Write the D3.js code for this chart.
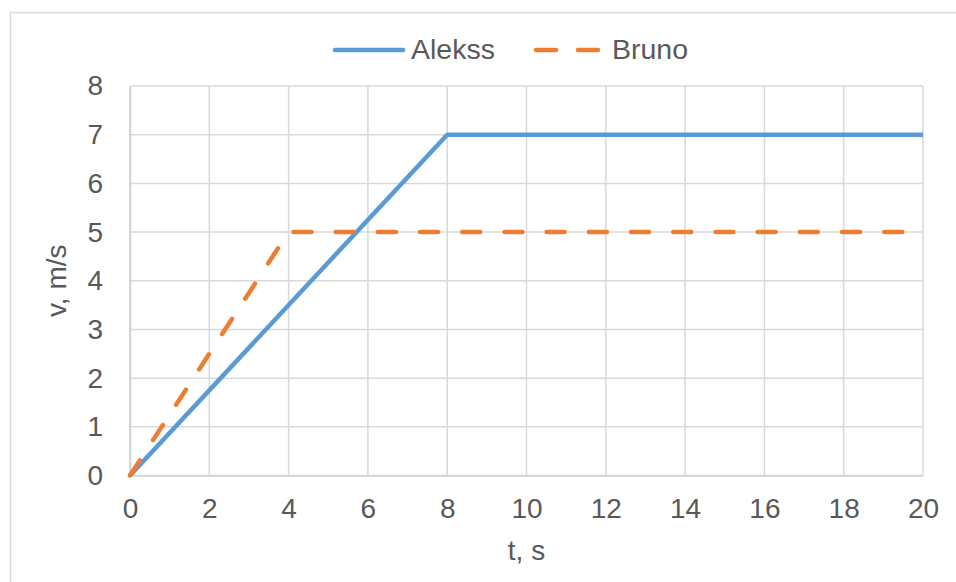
<!DOCTYPE html>
<html><head><meta charset="utf-8">
<script src="https://cdn.jsdelivr.net/npm/d3@7"></script>
<style>html,body{margin:0;padding:0;background:#fff;}svg{display:block;}</style>
</head><body>
<svg id="c" width="956" height="582"></svg>
<script>
const seriesNames = ["Alekss", "Bruno"];
const alekssT = [0, 8, 20];
const alekssV = [0, 7, 7];
const brunoT = [0, 4, 20];
const brunoV = [0, 5, 5];
const xTicks = [0, 2, 4, 6, 8, 10, 12, 14, 16, 18, 20];
const yTicks = [0, 1, 2, 3, 4, 5, 6, 7, 8];
const xTitle = "t, s";
const yTitle = "v, m/s";

const svg = d3.select("#c");
const font = "'Liberation Sans', Arial, sans-serif";
const txt = "#595959";
const L = 130, R = 923, T = 86, B = 475.5;
const x = d3.scaleLinear().domain([0, 20]).range([L, R]);
const y = d3.scaleLinear().domain([0, 8]).range([B, T]);

svg.append("rect").attr("x", 10.5).attr("y", 12.5).attr("width", 980).attr("height", 620)
  .attr("fill", "#fff").attr("stroke", "#d9d9d9").attr("stroke-width", 1.5);

// gridlines
svg.append("g").selectAll("line").data(xTicks).join("line")
  .attr("x1", d => x(d)).attr("x2", d => x(d)).attr("y1", T).attr("y2", B)
  .attr("stroke", "#d9d9d9").attr("stroke-width", 1.5);
svg.append("g").selectAll("line").data(yTicks).join("line")
  .attr("x1", L).attr("x2", R).attr("y1", d => y(d)).attr("y2", d => y(d))
  .attr("stroke", "#d9d9d9").attr("stroke-width", 1.5);

// axes labels via d3 axes
const xAxis = svg.append("g").attr("transform", `translate(0,${B})`)
  .call(d3.axisBottom(x).tickValues(xTicks).tickSize(0).tickPadding(23));
xAxis.select(".domain").attr("stroke", "#d0d0d0").attr("stroke-width", 1.5);
xAxis.selectAll("text").attr("fill", txt).style("font-family", font).style("font-size", "28px");

const yAxis = svg.append("g").attr("transform", `translate(${L},0)`)
  .call(d3.axisLeft(y).tickValues(yTicks).tickSize(0).tickPadding(27));
yAxis.select(".domain").attr("stroke", "#d0d0d0").attr("stroke-width", 1.5);
yAxis.selectAll("text").attr("fill", txt).style("font-family", font).style("font-size", "28px");

// titles
svg.append("text").attr("x", (L + R) / 2).attr("y", 560).attr("text-anchor", "middle")
  .attr("fill", txt).style("font-family", font).style("font-size", "28px").text(xTitle);
svg.append("text").attr("transform", `translate(66,${(T + B) / 2}) rotate(-90)`).attr("text-anchor", "middle")
  .attr("fill", txt).style("font-family", font).style("font-size", "28px").text(yTitle);

const line = d3.line().x(d => x(d[0])).y(d => y(d[1]));
const aData = alekssT.map((t, i) => [t, alekssV[i]]);
const bData = brunoT.map((t, i) => [t, brunoV[i]]);

svg.append("path").attr("d", line(aData)).attr("fill", "none")
  .attr("stroke", "#5b9bd5").attr("stroke-width", 4.5).attr("stroke-linejoin", "round");
svg.append("path").attr("d", line(bData)).attr("fill", "none")
  .attr("stroke", "#ed7d31").attr("stroke-width", 4.5).attr("stroke-linecap", "round")
  .attr("stroke-linejoin", "round").attr("stroke-dasharray", "18,24.2");

// legend
const lg = svg.append("g");
lg.append("line").attr("x1", 335).attr("x2", 403).attr("y1", 50).attr("y2", 50)
  .attr("stroke", "#5b9bd5").attr("stroke-width", 4.5).attr("stroke-linecap", "round");
lg.append("text").attr("x", 411).attr("y", 59).attr("fill", txt)
  .style("font-family", font).style("font-size", "28.5px").text(seriesNames[0]);
lg.append("line").attr("x1", 536).attr("x2", 598).attr("y1", 50).attr("y2", 50)
  .attr("stroke", "#ed7d31").attr("stroke-width", 4.5).attr("stroke-linecap", "round")
  .attr("stroke-dasharray", "20,22");
lg.append("text").attr("x", 612).attr("y", 59).attr("fill", txt)
  .style("font-family", font).style("font-size", "28.5px").text(seriesNames[1]);
</script>
</body></html>
